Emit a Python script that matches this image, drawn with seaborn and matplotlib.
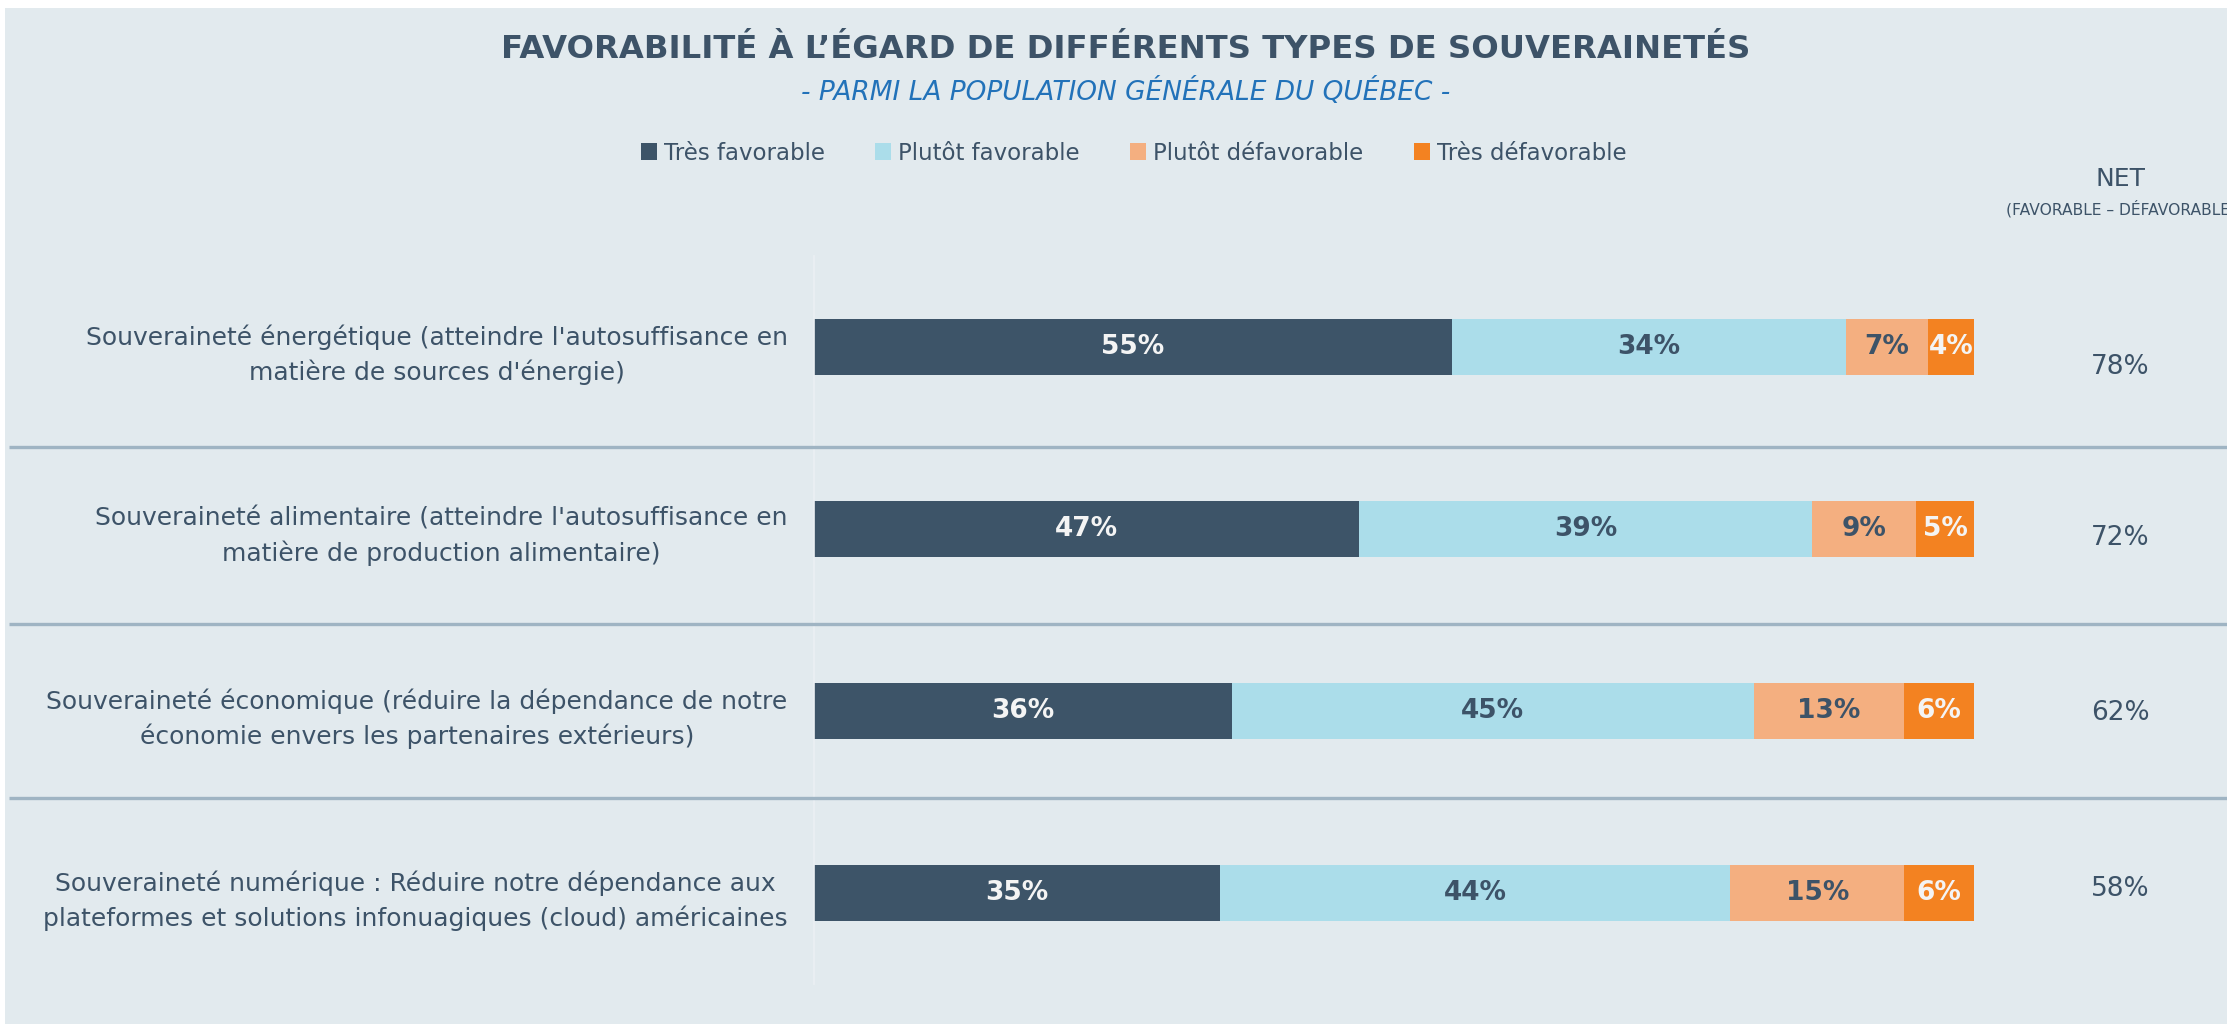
import numpy as np
import pandas as pd
import matplotlib
matplotlib.use("Agg")
import matplotlib.pyplot as plt
import seaborn as sns
from matplotlib.patches import Patch, Rectangle
from matplotlib.transforms import blended_transform_factory

# --- data ---
categories = [
    "Souveraineté énergétique (atteindre l'autosuffisance en\nmatière de sources d'énergie)",
    "Souveraineté alimentaire (atteindre l'autosuffisance en\nmatière de production alimentaire)",
    "Souveraineté économique (réduire la dépendance de notre\néconomie envers les partenaires extérieurs)",
    "Souveraineté numérique : Réduire notre dépendance aux\nplateformes et solutions infonuagiques (cloud) américaines",
]
series_names = ["Très favorable", "Plutôt favorable", "Plutôt défavorable", "Très défavorable"]
tres_fav = [55, 47, 36, 35]
plutot_fav = [34, 39, 45, 44]
plutot_defav = [7, 9, 13, 15]
tres_defav = [4, 5, 6, 6]
net = [78, 72, 62, 58]

# --- style ---
colors = ["#3D5468", "#ABDDEA", "#F4AF80", "#F38221"]
label_colors = ["#F4F4F4", "#3D5368", "#3D5368", "#F4F4F4"]
text_dark = "#3D5368"
bg = "#E2EAEE"

sns.set_style("white")
plt.rcParams["font.family"] = ["DejaVu Sans"]

df = pd.DataFrame({
    "categorie": categories,
    series_names[0]: tres_fav,
    series_names[1]: plutot_fav,
    series_names[2]: plutot_defav,
    series_names[3]: tres_defav,
})
cum = df[series_names].cumsum(axis=1)

fig = plt.figure(figsize=(22.27, 10.24), dpi=100, facecolor=bg)
ax = fig.add_axes([814 / 2227, 1 - 984 / 1024, 1160 / 2227, 728 / 1024])
ax.set_facecolor(bg)

# stacked bars: draw cumulative totals from the widest to the narrowest
for i in reversed(range(len(series_names))):
    sns.barplot(data=cum.assign(categorie=df["categorie"]), x=series_names[i], y="categorie",
                orient="h", color=colors[i], saturation=1, width=0.31, linewidth=0, ax=ax)

# segment labels
for r in range(len(df)):
    left = 0
    for i, name in enumerate(series_names):
        v = df.loc[r, name]
        ax.text(left + v / 2, r, f"{v}%", ha="center", va="center",
                fontsize=19, fontweight="bold", color=label_colors[i])
        left += v

# NET column
net_dy = [0.11, 0.05, 0.01, -0.02]
for r, v in enumerate(net):
    ax.text(112.6, r + net_dy[r], f"{v}%", ha="center", va="center",
            fontsize=19, color=text_dark, clip_on=False)

ax.set_xlim(0, 100)
ax.set_ylim(3.5, -0.5)
ax.set_xlabel("")
ax.set_ylabel("")
ax.set_xticks([])
ax.tick_params(axis="y", length=0, pad=19, labelsize=18, labelcolor=text_dark)
for lbl in ax.get_yticklabels():
    lbl.set_multialignment("center")
    lbl.set_linespacing(1.5)
for s in ["top", "right", "bottom"]:
    ax.spines[s].set_visible(False)
ax.spines["left"].set_color("#EBF0F3")
ax.spines["left"].set_linewidth(1.2)

# row separators across the full width
trans = blended_transform_factory(fig.transFigure, ax.transData)
for y in [0.55, 1.52, 2.48]:
    ax.plot([0.004, 1.0], [y, y], transform=trans, color="#9FB4C3", lw=2.4,
            clip_on=False, solid_capstyle="butt", zorder=5)

# titles
fig.text(0.5056, 1 - 50 / 1024, "FAVORABILITÉ À L’ÉGARD DE DIFFÉRENTS TYPES DE SOUVERAINETÉS",
         ha="center", va="center", fontsize=23.2, fontweight="bold", color=text_dark)
fig.text(0.5056, 1 - 92 / 1024, "- PARMI LA POPULATION GÉNÉRALE DU QUÉBEC -",
         ha="center", va="center", fontsize=19, style="italic", color="#2272B9")

fig.text(2121 / 2227, 1 - 179 / 1024, "NET", ha="center", va="center",
         fontsize=18, color=text_dark)
fig.text(2121 / 2227, 1 - 209 / 1024, "(FAVORABLE – DÉFAVORABLE)", ha="center", va="center",
         fontsize=11.2, color=text_dark)

# legend
handles = [Patch(facecolor=c, edgecolor="none", label=n) for c, n in zip(colors, series_names)]
fig.legend(handles=handles, loc="center", bbox_to_anchor=(0.509, 1 - 153 / 1024), ncol=4,
           frameon=False, fontsize=16.5, labelcolor=text_dark, handlelength=0.7,
           handleheight=0.7, handletextpad=0.3, columnspacing=2.2)

# white frame strips at top and left
fig.patches.append(Rectangle((0, 1 - 8 / 1024), 1, 8 / 1024, transform=fig.transFigure,
                             facecolor="white", edgecolor="none", zorder=10))
fig.patches.append(Rectangle((0, 0), 5 / 2227, 1, transform=fig.transFigure,
                             facecolor="white", edgecolor="none", zorder=10))

fig.savefig("out.png", dpi=100, facecolor=bg)
